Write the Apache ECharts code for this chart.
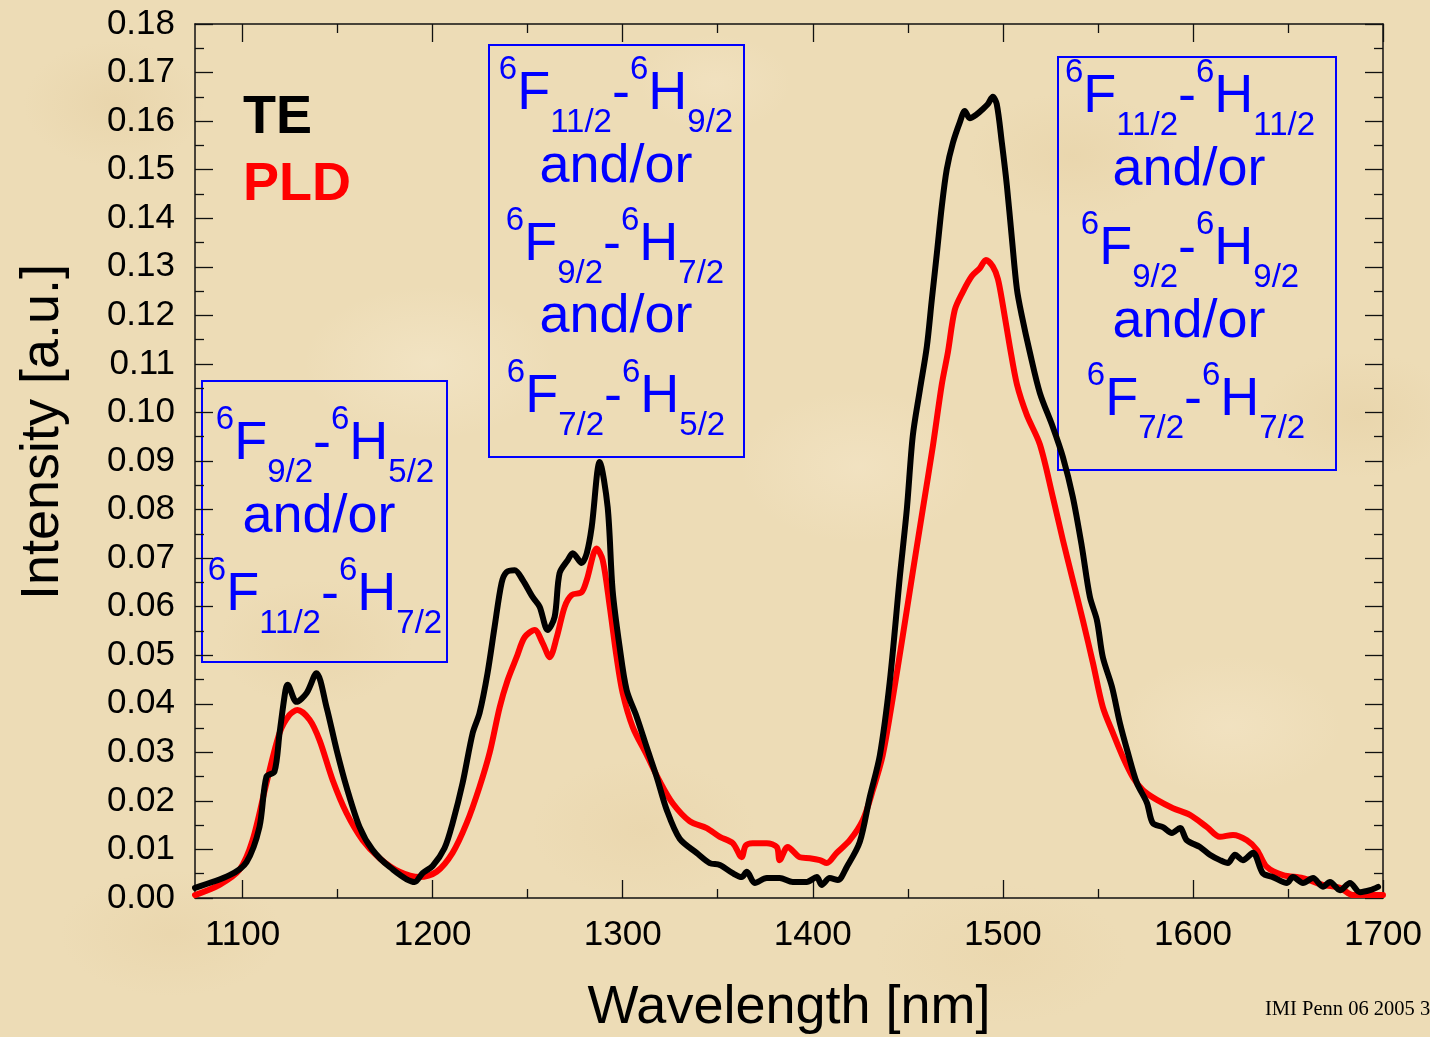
<!DOCTYPE html>
<html>
<head>
<meta charset="utf-8">
<title>Emission spectra: TE vs PLD</title>
<script src="https://cdn.jsdelivr.net/npm/echarts@6/dist/echarts.min.js"></script>
<style>
  html, body { margin: 0; padding: 0; width: 1430px; height: 1037px; overflow: hidden; }
  body {
    background-color: #eddcb6;
    background-image:
      radial-gradient(ellipse 130px 90px at 8% 10%, rgba(218,190,138,0.22), transparent 70%),
      radial-gradient(ellipse 180px 110px at 30% 35%, rgba(247,236,210,0.45), transparent 70%),
      radial-gradient(ellipse 140px 90px at 22% 62%, rgba(220,192,140,0.20), transparent 70%),
      radial-gradient(ellipse 160px 100px at 45% 80%, rgba(224,196,146,0.20), transparent 70%),
      radial-gradient(ellipse 170px 110px at 60% 45%, rgba(247,234,208,0.40), transparent 70%),
      radial-gradient(ellipse 150px 90px at 75% 15%, rgba(220,192,140,0.20), transparent 70%),
      radial-gradient(ellipse 160px 100px at 86% 70%, rgba(246,232,204,0.45), transparent 70%),
      radial-gradient(ellipse 140px 90px at 95% 40%, rgba(218,190,136,0.20), transparent 70%),
      radial-gradient(ellipse 160px 90px at 12% 90%, rgba(222,194,142,0.20), transparent 70%),
      radial-gradient(ellipse 180px 100px at 70% 92%, rgba(228,202,152,0.22), transparent 70%),
      radial-gradient(ellipse 110px 70px at 50% 8%, rgba(246,232,204,0.40), transparent 70%);
  }
  #chart { width: 1430px; height: 1037px; }
</style>
</head>
<body>
<div id="chart"></div>
<script>
// Emission spectrum of the thermally evaporated film (TE)
const teWavelength = [
  1075.0, 1093.2, 1102.1, 1108.9, 1112.6, 1116.8, 1119.5, 1122.6, 1123.7, 1128.4,
  1133.7, 1138.9, 1144.2, 1149.5, 1154.7, 1161.6, 1168.4, 1177.4, 1190.5, 1194.7,
  1200.0, 1206.3, 1210.5, 1215.8, 1221.1, 1224.7, 1228.9, 1232.6, 1236.3, 1238.9,
  1243.2, 1247.4, 1252.6, 1256.3, 1260.5, 1264.2, 1266.8, 1271.1, 1273.7, 1278.4,
  1281.1, 1283.7, 1287.9, 1292.1, 1294.7, 1298.4, 1302.1, 1307.4, 1312.6, 1317.9,
  1323.2, 1330.0, 1338.9, 1345.8, 1351.1, 1357.9, 1362.6, 1365.3, 1369.5, 1375.8,
  1382.6, 1389.5, 1396.8, 1402.1, 1404.7, 1408.9, 1413.2, 1417.9, 1424.7, 1430.0,
  1435.3, 1440.5, 1445.8, 1449.5, 1452.6, 1456.3, 1460.0, 1462.6, 1465.3, 1467.9,
  1470.5, 1473.7, 1477.4, 1480.0, 1482.6, 1486.3, 1489.5, 1492.1, 1494.7, 1496.8,
  1499.5, 1502.1, 1504.7, 1507.4, 1510.0, 1514.2, 1519.5, 1526.3, 1531.6, 1536.8,
  1541.6, 1545.8, 1549.5, 1552.6, 1557.4, 1561.6, 1565.8, 1570.5, 1575.8, 1578.9,
  1584.2, 1588.9, 1593.2, 1596.8, 1603.7, 1608.9, 1614.2, 1618.4, 1622.1, 1626.3,
  1631.6, 1636.8, 1642.1, 1649.5, 1652.6, 1657.9, 1663.2, 1668.4, 1672.1, 1677.4,
  1682.6, 1687.9, 1693.2, 1697.4
];
const teIntensity = [
  0.0021, 0.0047, 0.0074, 0.0146, 0.0250, 0.0260, 0.0340, 0.0428, 0.0439, 0.0404,
  0.0422, 0.0463, 0.0393, 0.0305, 0.0229, 0.0146, 0.0099, 0.0064, 0.0033, 0.0051,
  0.0066, 0.0103, 0.0154, 0.0237, 0.0340, 0.0381, 0.0463, 0.0558, 0.0649, 0.0671,
  0.0675, 0.0655, 0.0620, 0.0600, 0.0552, 0.0579, 0.0669, 0.0696, 0.0710, 0.0690,
  0.0710, 0.0764, 0.0898, 0.0805, 0.0634, 0.0517, 0.0428, 0.0373, 0.0311, 0.0249,
  0.0181, 0.0122, 0.0093, 0.0072, 0.0068, 0.0051, 0.0043, 0.0054, 0.0031, 0.0041,
  0.0041, 0.0033, 0.0033, 0.0043, 0.0027, 0.0041, 0.0037, 0.0064, 0.0115, 0.0208,
  0.0294, 0.0445, 0.0661, 0.0801, 0.0951, 0.1045, 0.1135, 0.1231, 0.1328, 0.1425,
  0.1501, 0.1555, 0.1598, 0.1621, 0.1606, 0.1614, 0.1625, 0.1635, 0.1650, 0.1635,
  0.1555, 0.1468, 0.1361, 0.1254, 0.1199, 0.1124, 0.1040, 0.0970, 0.0908, 0.0826,
  0.0723, 0.0620, 0.0572, 0.0496, 0.0435, 0.0360, 0.0299, 0.0237, 0.0196, 0.0154,
  0.0146, 0.0134, 0.0144, 0.0119, 0.0105, 0.0089, 0.0078, 0.0072, 0.0089, 0.0078,
  0.0093, 0.0051, 0.0043, 0.0031, 0.0043, 0.0031, 0.0041, 0.0023, 0.0033, 0.0016,
  0.0031, 0.0012, 0.0016, 0.0023
];

// Emission spectrum of the pulsed-laser-deposited film (PLD)
const pldWavelength = [
  1075.0, 1087.9, 1098.4, 1105.3, 1112.6, 1119.5, 1124.7, 1128.9, 1135.3, 1140.5,
  1147.4, 1154.7, 1163.2, 1172.1, 1182.6, 1193.2, 1202.1, 1210.5, 1217.9, 1224.7,
  1230.0, 1235.3, 1239.5, 1244.2, 1248.4, 1253.7, 1257.9, 1261.6, 1265.3, 1269.5,
  1273.2, 1278.4, 1281.1, 1286.3, 1289.5, 1293.2, 1296.8, 1300.0, 1305.3, 1312.6,
  1319.5, 1326.3, 1335.3, 1344.2, 1351.1, 1357.9, 1362.6, 1364.7, 1368.4, 1375.8,
  1381.1, 1382.6, 1386.8, 1393.2, 1398.4, 1403.7, 1407.4, 1412.6, 1419.5, 1426.3,
  1431.6, 1436.8, 1442.1, 1447.4, 1452.6, 1457.9, 1463.2, 1467.9, 1471.1, 1474.7,
  1478.9, 1483.7, 1487.9, 1491.1, 1494.7, 1497.4, 1500.0, 1503.7, 1507.4, 1512.6,
  1519.5, 1526.3, 1531.6, 1536.8, 1542.1, 1547.4, 1552.6, 1557.9, 1563.2, 1568.4,
  1573.7, 1581.1, 1589.5, 1598.4, 1607.4, 1614.2, 1621.1, 1628.4, 1633.7, 1638.9,
  1647.4, 1657.9, 1668.4, 1677.4, 1684.2, 1691.6, 1700.0
];
const pldIntensity = [
  0.0006, 0.0027, 0.0058, 0.0119, 0.0237, 0.0340, 0.0377, 0.0387, 0.0367, 0.0325,
  0.0243, 0.0175, 0.0119, 0.0082, 0.0054, 0.0043, 0.0054, 0.0093, 0.0154, 0.0229,
  0.0299, 0.0393, 0.0449, 0.0496, 0.0537, 0.0552, 0.0525, 0.0496, 0.0537, 0.0600,
  0.0624, 0.0630, 0.0655, 0.0720, 0.0696, 0.0600, 0.0496, 0.0422, 0.0352, 0.0295,
  0.0240, 0.0195, 0.0158, 0.0144, 0.0126, 0.0113, 0.0084, 0.0108, 0.0113, 0.0113,
  0.0105, 0.0078, 0.0105, 0.0084, 0.0082, 0.0078, 0.0072, 0.0093, 0.0119, 0.0160,
  0.0222, 0.0294, 0.0412, 0.0541, 0.0671, 0.0801, 0.0931, 0.1058, 0.1124, 0.1211,
  0.1248, 0.1281, 0.1297, 0.1314, 0.1301, 0.1275, 0.1221, 0.1135, 0.1058, 0.0995,
  0.0934, 0.0826, 0.0737, 0.0655, 0.0572, 0.0484, 0.0393, 0.0340, 0.0290, 0.0249,
  0.0222, 0.0202, 0.0185, 0.0171, 0.0146, 0.0126, 0.0130, 0.0119, 0.0099, 0.0064,
  0.0047, 0.0041, 0.0027, 0.0021, 0.0006, 0.0006, 0.0006
];

// Axis ticks (nm)
const xMajorTicks = [1100, 1200, 1300, 1400, 1500, 1600, 1700];
const xMinorTicks = [1150, 1250, 1350, 1450, 1550, 1650];

// Dy3+ transitions (upper 6F level, lower 6H level) for each emission band
const band1130 = [['9/2', '5/2'], ['11/2', '7/2']];
const band1290 = [['11/2', '9/2'], ['9/2', '7/2'], ['7/2', '5/2']];
const band1490 = [['11/2', '11/2'], ['9/2', '9/2'], ['7/2', '7/2']];

const FONT = '"Liberation Sans", Arial, Helvetica, sans-serif';
const BLUE = '#0000ff';
const toPairs = (xs, ys) => xs.map((x, i) => [x, ys[i]]);

// --- text helpers for the term-symbol annotations ---
const measureCtx = document.createElement('canvas').getContext('2d');
function textWidth(s, size) {
  measureCtx.font = size + 'px ' + FONT;
  return measureCtx.measureText(s).width;
}
const MID = 0.345; // distance from alphabetic baseline to em middle, in em
function blueText(s, x, baseline, size, align) {
  return {
    type: 'text', silent: true,
    style: {
      text: s, x: x, y: baseline - MID * size,
      fontSize: size, fontFamily: FONT, fill: BLUE,
      align: align || 'left', verticalAlign: 'middle'
    }
  };
}
const BIG = 54, SMALL = 33, SUP = -32, SUB = 21;
function termRow(pair, cx, base) {
  const parts = [
    ['6', SMALL, SUP], ['F', BIG, 0], [pair[0], SMALL, SUB],
    ['-', BIG, 0], ['6', SMALL, SUP], ['H', BIG, 0], [pair[1], SMALL, SUB]
  ];
  const total = parts.reduce((a, p) => a + textWidth(p[0], p[1]), 0);
  let x = cx - total / 2;
  return parts.map(p => {
    const el = blueText(p[0], x, base + p[2], p[1]);
    x += textWidth(p[0], p[1]);
    return el;
  });
}
function annotation(rect, pairs, rowBases, rowCenters, orBases, orCenters) {
  const els = [{
    type: 'rect', silent: true,
    shape: { x: rect[0], y: rect[1], width: rect[2] - rect[0], height: rect[3] - rect[1] },
    style: { fill: 'none', stroke: BLUE, lineWidth: 2 }
  }];
  pairs.forEach((p, i) => els.push(...termRow(p, rowCenters[i], rowBases[i])));
  orBases.forEach((b, i) => els.push(blueText('and/or', orCenters[i], b, BIG, 'center')));
  return els;
}

const graphics = [
  ...annotation([202, 381, 447, 662], band1130, [463, 614], [325, 325], [536], [319]),
  ...annotation([489, 45, 744, 457], band1290, [113, 264, 416], [616, 615, 616], [186, 336], [616, 616]),
  ...annotation([1058, 57, 1336, 470], band1490, [116, 268, 419], [1190, 1190, 1196], [189, 341], [1189, 1189]),
  {
    type: 'text', silent: true, x: 43, y: 432, rotation: Math.PI / 2,
    style: { text: 'Intensity [a.u.]', x: 0, y: 0, fontSize: 54, fontFamily: FONT,
             fill: '#000', align: 'center', verticalAlign: 'middle' }
  },
  {
    type: 'text', silent: true,
    style: { text: 'IMI Penn 06 2005 3', x: 1265, y: 1017 - 0.34 * 20.5, fontSize: 20.5,
             fontFamily: '"Liberation Serif", "Times New Roman", serif', fill: '#000',
             align: 'left', verticalAlign: 'middle' }
  }
];

const AXIS_COLOR = '#111';
const tickStyle = { color: AXIS_COLOR, width: 1.3 };
function xAxisDef(position, ticks, len, withLine, withLabels) {
  return {
    type: 'value', position: position, min: 1075, max: 1700,
    axisLine: { show: withLine, onZero: false, lineStyle: { color: AXIS_COLOR, width: 1.5 } },
    axisTick: { show: true, inside: true, length: len, customValues: ticks, lineStyle: tickStyle },
    axisLabel: withLabels
      ? { show: true, customValues: ticks, fontSize: 35, fontFamily: FONT, color: '#000', margin: 20,
          formatter: v => String(v) }
      : { show: false },
    splitLine: { show: false },
    name: withLabels ? 'Wavelength [nm]' : '',
    nameLocation: 'middle', nameGap: 83,
    nameTextStyle: { fontSize: 54, fontFamily: FONT, color: '#000' }
  };
}
function yAxisDef(position, withLabels) {
  return {
    type: 'value', position: position, min: 0, max: 0.18, interval: 0.01,
    axisLine: { show: true, onZero: false, lineStyle: { color: AXIS_COLOR, width: 1.5 } },
    axisTick: { show: true, inside: true, length: 18, lineStyle: tickStyle },
    minorTick: { show: true, splitNumber: 2, length: 9, lineStyle: tickStyle },
    axisLabel: withLabels
      ? { show: true, fontSize: 35, fontFamily: FONT, color: '#000', margin: 20,
          formatter: v => v.toFixed(2) }
      : { show: false },
    splitLine: { show: false },
    minorSplitLine: { show: false }
  };
}

const chart = echarts.init(document.getElementById('chart'), null, { renderer: 'canvas' });
chart.setOption({
  animation: false,
  backgroundColor: 'transparent',
  grid: { left: 195, right: 47, top: 24, bottom: 139, containLabel: false, outerBoundsMode: 'none' },
  legend: {
    orient: 'vertical', left: 238, top: 91, itemGap: 13, padding: 0,
    icon: 'none', itemWidth: 0, itemHeight: 14, selectedMode: false,
    textStyle: { fontSize: 54, fontWeight: 'bold', fontFamily: FONT },
    data: [
      { name: 'TE', textStyle: { color: '#000000' } },
      { name: 'PLD', textStyle: { color: '#ff0000' } }
    ]
  },
  xAxis: [
    xAxisDef('bottom', xMajorTicks, 18, true, true),
    xAxisDef('bottom', xMinorTicks, 9, false, false),
    xAxisDef('top', xMajorTicks, 18, true, false),
    xAxisDef('top', xMinorTicks, 9, false, false)
  ],
  yAxis: [yAxisDef('left', true), yAxisDef('right', false)],
  series: [
    {
      name: 'PLD', type: 'line', xAxisIndex: 0, yAxisIndex: 0,
      data: toPairs(pldWavelength, pldIntensity),
      showSymbol: false, smooth: 0.3,
      lineStyle: { color: '#ff0000', width: 6, cap: 'round', join: 'round' },
      itemStyle: { color: '#ff0000' }
    },
    {
      name: 'TE', type: 'line', xAxisIndex: 0, yAxisIndex: 0,
      data: toPairs(teWavelength, teIntensity),
      showSymbol: false, smooth: 0.3,
      lineStyle: { color: '#000000', width: 6, cap: 'round', join: 'round' },
      itemStyle: { color: '#000000' }
    }
  ],
  graphic: graphics
});
</script>
</body>
</html>
